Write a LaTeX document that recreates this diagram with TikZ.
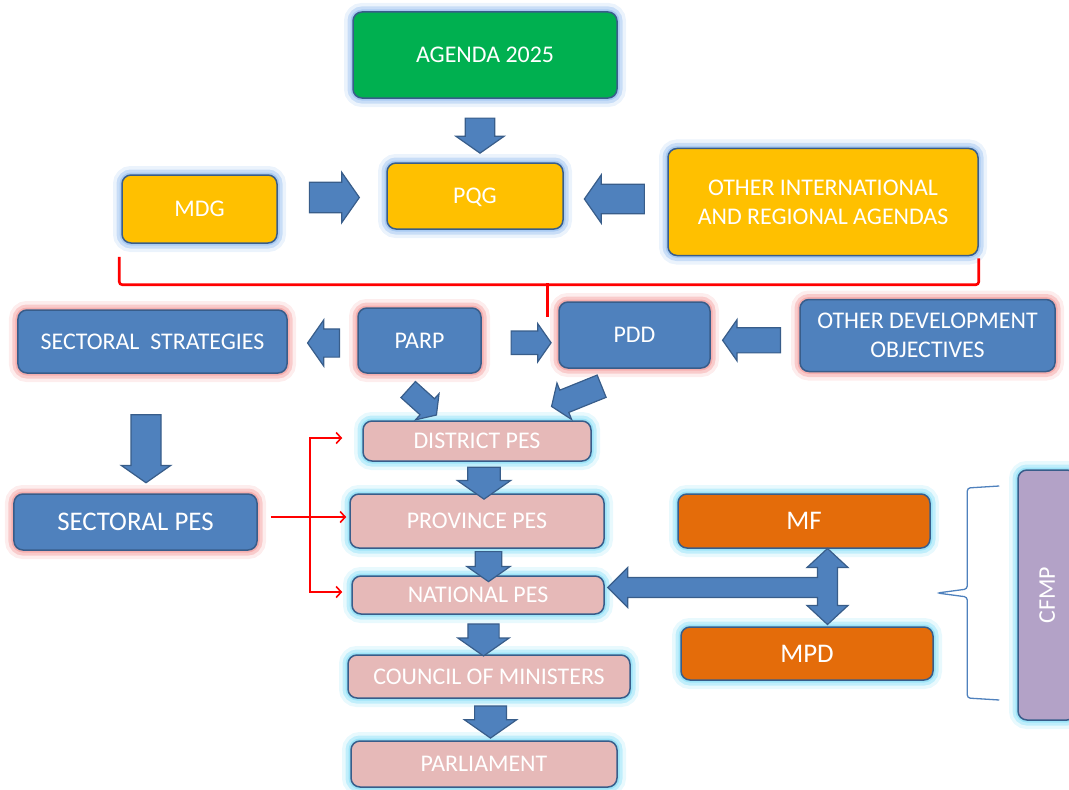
\documentclass[tikz,border=0pt]{standalone}
\usepackage{fontspec}
\setmainfont{Carlito}
\usepackage{tikz}
\usetikzlibrary{shapes, arrows.meta, calc}
\definecolor{agendagreen}{HTML}{00B050}
\definecolor{goalyellow}{HTML}{FFC000}
\definecolor{planblue}{HTML}{4F81BD}
\definecolor{pespink}{HTML}{E6B9B8}
\definecolor{minorange}{HTML}{E46C0A}
\definecolor{cfmppurple}{HTML}{B3A2C7}
\definecolor{boxline}{HTML}{385D8A}
\definecolor{glowblue}{HTML}{9DC3F0}
\definecolor{glowred}{HTML}{F4A3A3}
\definecolor{glowcyan}{HTML}{8EE0F7}
\tikzset{box/.style={rectangle, draw=boxline, line width=1.5bp, rounded corners=9bp, text=white, align=center, inner sep=0pt, text depth=0pt, font=\fontsize{24}{29}\selectfont}}
\tikzset{twolines/.style={text depth={}}}
\tikzset{glow/.style={preaction={draw=#1, line width=18bp, draw opacity=.2}, preaction={draw=#1, line width=11bp, draw opacity=.45}, preaction={draw=#1, line width=5bp, draw opacity=.7}}}
\tikzset{barrow/.style 2 args={single arrow, draw=boxline, fill=planblue, line width=1.2bp, inner sep=0pt, minimum height=#1bp, minimum width=#2bp, inner ysep={0.3*#2bp}, single arrow head extend={0.2*#2bp}, single arrow tip angle=110}}
\tikzset{bracered/.style={draw=red, line width=2.6bp, rounded corners=3bp}}
\tikzset{redarrow/.style={draw=red, line width=1.6bp, -{Straight Barb[length=5bp, width=11bp]}}}

\begin{document}
\begin{tikzpicture}[x=1bp, y=-1bp]
	\useasboundingbox (0,0) rectangle (1069,790);
	% boxes
	\node [box, fill=agendagreen, glow=glowblue, minimum width=264bp, minimum height=86bp] (agenda) at (485,55) {AGENDA 2025};
	\node [box, fill=goalyellow, glow=glowblue, minimum width=176bp, minimum height=66bp] (pqg) at (475,196) {PQG};
	\node [box, fill=goalyellow, glow=glowblue, minimum width=155bp, minimum height=68bp] (mdg) at (199.5,209) {MDG};
	\node [box, twolines, fill=goalyellow, glow=glowblue, minimum width=310bp, minimum height=107bp] (other) at (823,202) {OTHER INTERNATIONAL\\AND REGIONAL AGENDAS};
	\node [box, fill=planblue, glow=glowred, minimum width=269bp, minimum height=63bp] (secstrat) at (152.5,341.5) {SECTORAL\ \ STRATEGIES};
	\node [box, fill=planblue, glow=glowred, minimum width=123bp, minimum height=65bp] (parp) at (419.5,340.5) {PARP};
	\node [box, fill=planblue, glow=glowred, minimum width=151bp, minimum height=66bp] (pdd) at (634.5,335) {PDD};
	\node [box, twolines, fill=planblue, glow=glowred, minimum width=255bp, minimum height=72bp] (otherdev) at (927.5,335.5) {OTHER DEVELOPMENT\\OBJECTIVES};
	\node [box, fill=planblue, glow=glowred, minimum width=243bp, minimum height=56bp, font=\fontsize{27}{32}\selectfont] (secpes) at (135.5,522) {SECTORAL PES};
	\node [box, fill=pespink, glow=glowcyan, minimum width=228bp, minimum height=40bp] (district) at (477,441) {DISTRICT PES};
	\node [box, fill=pespink, glow=glowcyan, minimum width=254bp, minimum height=54bp] (province) at (477,521) {PROVINCE PES};
	\node [box, fill=pespink, glow=glowcyan, minimum width=252bp, minimum height=38bp] (national) at (478,595) {NATIONAL PES};
	\node [box, fill=pespink, glow=glowcyan, minimum width=282bp, minimum height=43bp] (council) at (489,676.5) {COUNCIL OF MINISTERS};
	\node [box, fill=pespink, glow=glowcyan, minimum width=266bp, minimum height=46bp] (parliament) at (484,764) {PARLIAMENT};
	\node [box, fill=minorange, glow=glowcyan, minimum width=252bp, minimum height=54bp, font=\fontsize{27}{32}\selectfont] (mf) at (804,521) {MF};
	\node [box, fill=minorange, glow=glowcyan, minimum width=252bp, minimum height=53bp, font=\fontsize{27}{32}\selectfont] (mpd) at (807,653.5) {MPD};
	\node [box, fill=cfmppurple, glow=glowcyan, minimum width=250bp, minimum height=58bp, rotate=90] (cfmp) at (1047,595) {CFMP};

	% block arrows
	\node [barrow={35}{47}, rotate=-90] (a1) at ($(agenda.south)!.5!(pqg.north)$) {};
	\node [barrow={50}{49}] (a2) at ($(mdg.east)!.5!(pqg.west)+(-3,-5)$) {};
	\node [barrow={60}{47}, rotate=180] (a3) at ($(other.west)!.5!(pqg.east)+(4,0)$) {};
	\node [barrow={32}{45}, rotate=180] (a4) at ($(secstrat.east)!.5!(parp.west)+(6,2)$) {};
	\node [barrow={40}{37}] (a5) at ($(parp.east)!.5!(pdd.west)+(7,5)$) {};
	\node [barrow={58}{40}, rotate=180] (a6) at ($(otherdev.west)!.5!(pdd.east)+(1,5)$) {};
	\node [barrow={68}{48}, rotate=-90] (a7) at ($(secstrat.south)!.5!(secpes.north)+(2,10)$) {};
	\node [barrow={38}{34}, rotate=-42] (a8) at ($(parp.south)+(0,26)$) {};
	\node [barrow={54}{38}, rotate=202] (a9) at ($(pdd.south)+(-54,26)$) {};
	\node [barrow={32}{52}, rotate=-90] (a10) at ($(district.south)!.5!(province.north)+(7,0)$) {};
	\node [barrow={30}{42}, rotate=-90] (a11) at ($(province.south)!.5!(national.north)+(11,0)$) {};
	\node [barrow={32}{50}, rotate=-90] (a12) at ($(national.south)!.5!(council.north)$) {};
	\node [barrow={32}{51}, rotate=-90] (a13) at ($(council.south)!.5!(parliament.north)+(4,-3)$) {};

	% MF <-> MPD, to NATIONAL PES
	\coordinate (hub) at ($(mf.south)!.5!(mpd.north)+(22,0)$);
	\draw [draw=boxline, fill=planblue, line width=1.2bp] ($(hub)+(0,-39)$) -- ++(20.5,19) -- ++(-10.5,0) -- ++(0,38) -- ++(10.5,0) -- ++(-20.5,19) -- ++(-20.5,-19) -- ++(10.5,0) -- ++(0,-8)
		-- ($(national.east |- hub)+(23,10)$) -- ++(0,10) -- ++(-20,-20) -- ++(20,-20) -- ++(0,10)
		-- ($(hub)+(-10,-10)$) -- ++(0,-10) -- ++(-10.5,0) -- cycle;

	% red brace under the agendas
	\draw [bracered] ($(mdg.south west)+(-2,13)$) -- ++(0,28) -| ($(other.south east)+(0,2)$);
	\draw [bracered] ($(pdd.north west)+(-11,-18)$) -- ($(pdd.north west)+(-11,16)$);

	% sectoral PES to the PES chain
	\coordinate (split) at ($(secpes.east)+(45,-5)$);
	\draw [draw=red, line width=1.6bp] ($(secpes.east)+(13,-5)$) -- (split);
	\draw [redarrow] (split) -- ++(7,0) |- ($(district.west)+(-20,-3)$);
	\draw [redarrow] (split) -- ($(province.west)+(-3,-4)$);
	\draw [redarrow] (split) -- ++(7,0) |- ($(national.west)+(-9,-3)$);

	% CFMP brace
	\draw [draw=planblue, line width=1.3bp, rounded corners=3bp] ($(cfmp.north)+(-18,-109)$) -- ++(-32,2) -- ++(0,101) -- ++(-30,4) -- ++(30,4) -- ++(0,101) -- ++(32,2);
\end{tikzpicture}
\end{document}
